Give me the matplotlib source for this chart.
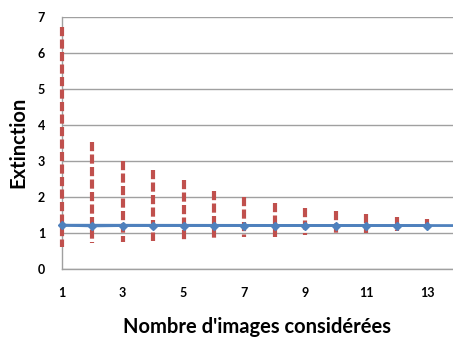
import matplotlib
matplotlib.use("Agg")
import matplotlib.pyplot as plt

images = list(range(1, 14))
mean_ext = [1.21, 1.19, 1.2, 1.2, 1.2, 1.2, 1.2, 1.2, 1.2, 1.2, 1.2, 1.2, 1.2]
upper = [6.72, 3.52, 3.0, 2.75, 2.47, 2.17, 2.0, 1.82, 1.68, 1.61, 1.53, 1.44, 1.38]
lower = [0.6, 0.71, 0.75, 0.78, 0.8, 0.85, 0.87, 0.88, 0.94, 0.97, 1.0, 1.05, 1.08]
xticks = [1, 3, 5, 7, 9, 11, 13]
yticks = [0, 1, 2, 3, 4, 5, 6, 7]

plt.rcParams['font.family'] = ['Lato', 'DejaVu Sans']

fig = plt.figure(figsize=(4.53, 3.38), dpi=100)
ax = fig.add_axes([0.1362, 0.205, 0.8638, 0.7447])

for x, u, l in zip(images, upper, lower):
    ax.plot([x, x], [u, l], color='#C0504D', linewidth=3,
            linestyle=(0, (2.2, 0.8)), solid_capstyle='butt',
            dash_capstyle='butt', zorder=3, clip_on=False)
ax.plot([1, 13.85], [mean_ext[0], mean_ext[-1]], color='#4F81BD', lw=2, zorder=4)
ax.plot(images, mean_ext, color='#4F81BD', lw=2, marker='D', markersize=4.5,
        zorder=5, clip_on=False)

ax.set_xlim(1, 13.85)
ax.set_ylim(0, 7)
ax.set_xticks(xticks)
ax.set_yticks(yticks)
ax.grid(axis='y', color='#A0A0A0', lw=1)
ax.set_axisbelow(True)
for s in ['top', 'right']:
    ax.spines[s].set_visible(False)
for s in ['left', 'bottom']:
    ax.spines[s].set_color('#A0A0A0')
    ax.spines[s].set_linewidth(1)
ax.tick_params(length=0, labelsize=9)
ax.tick_params(axis='x', pad=13)
ax.tick_params(axis='y', pad=12)
for lab in ax.get_xticklabels() + ax.get_yticklabels():
    lab.set_fontweight('bold')

ax.set_xlabel("Nombre d'images considérées", fontsize=14.5, fontweight='bold',
              labelpad=13)
ax.set_ylabel("Extinction", fontsize=14.5, fontweight='bold', labelpad=7)

fig.savefig('out.png', dpi=100)
